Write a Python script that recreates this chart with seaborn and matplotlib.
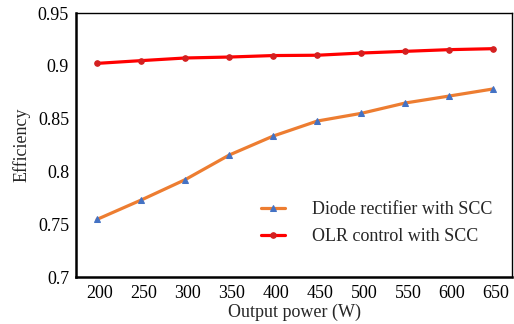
import matplotlib
matplotlib.use("Agg")
import matplotlib.pyplot as plt
import seaborn as sns
import pandas as pd

power = [197, 247, 297, 347, 397, 447, 497, 547, 597, 646]
tick_vals = [200, 250, 300, 350, 400, 450, 500, 550, 600, 650]
diode = [0.7546, 0.7729, 0.7922, 0.8155, 0.8335, 0.8477, 0.855, 0.8648, 0.8714, 0.878]
olr = [0.9023, 0.9049, 0.9074, 0.9083, 0.9097, 0.9100, 0.9121, 0.9137, 0.9153, 0.9162]
y_ticks = [0.7, 0.75, 0.8, 0.85, 0.9, 0.95]
y_labels = ["0.7", "0.75", "0.8", "0.85", "0.9", "0.95"]

sns.set_theme(style="white")
plt.rcParams['font.family'] = ['Liberation Serif', 'DejaVu Serif']

df = pd.DataFrame({"power": power, "diode": diode, "olr": olr})

fig = plt.figure(figsize=(5.14, 3.24), dpi=100)
ax = fig.add_axes([76/514, 1 - 277/324, (512-76)/514, (277-13)/324])

sns.lineplot(data=df, x="power", y="diode", ax=ax, color="#ED7D31", lw=2.3,
             marker="^", markersize=5, markerfacecolor="#4472C4",
             markeredgecolor="#4472C4", label="Diode rectifier with SCC")
sns.lineplot(data=df, x="power", y="olr", ax=ax, color="#FF0000", lw=2.3,
             marker="o", markersize=4, markerfacecolor="#D42020",
             markeredgecolor="#D42020", label="OLR control with SCC")

fs = 13
ax.set_xlim(173, 668)
ax.set_ylim(0.7, 0.95)
ax.set_xticks(tick_vals)
ax.set_xticklabels([str(t) for t in tick_vals])
ax.set_yticks(y_ticks)
ax.set_yticklabels(y_labels)
ax.tick_params(direction="in", length=5, width=1, labelsize=fs, colors="black",
               top=False, right=False)
ax.tick_params(axis="x", pad=6)
ax.tick_params(axis="y", pad=5)
for side in ["left", "bottom"]:
    ax.spines[side].set_linewidth(1.8)
    ax.spines[side].set_color("black")
for side in ["top", "right"]:
    ax.spines[side].set_linewidth(1.0)
    ax.spines[side].set_color("black")
ax.set_xlabel("Output power (W)", fontsize=fs, labelpad=1)
ax.set_ylabel("Efficiency", fontsize=fs, labelpad=5)

leg = ax.legend(loc="center left", bbox_to_anchor=(0.425, 0.205), frameon=False,
                fontsize=fs, handlelength=1.3, handletextpad=1.5,
                labelspacing=0.55, borderaxespad=0, borderpad=0)

fig.savefig("out.png", dpi=100)
